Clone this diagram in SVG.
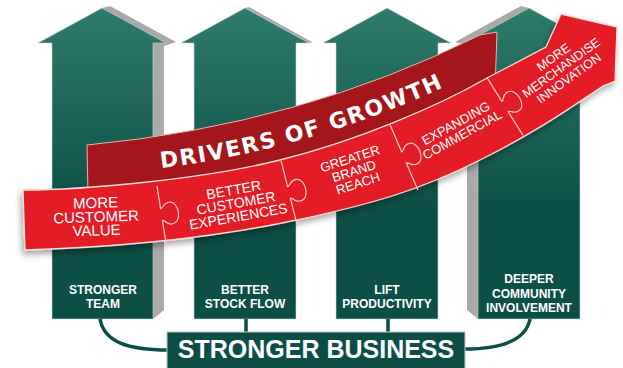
<svg xmlns="http://www.w3.org/2000/svg" width="623" height="368" viewBox="0 0 623 368">
<defs>
<linearGradient id="gr" gradientUnits="userSpaceOnUse" x1="0" y1="5" x2="0" y2="210">
<stop offset="0" stop-color="#2f7c6c"/><stop offset="1" stop-color="#0c4f46"/>
</linearGradient>
<filter id="sh" x="-10%" y="-20%" width="120%" height="150%">
<feDropShadow dx="-2" dy="4" stdDeviation="3" flood-color="#000" flood-opacity="0.35"/>
</filter>
<style>
.col{fill:url(#gr);stroke:#c9d6d2;stroke-width:0.6}
.side{fill:#a9a9a9}
.lbl{font-family:"Liberation Sans",Arial,sans-serif;font-weight:bold;font-size:12px;fill:#fff;text-anchor:middle}
.seg{font-family:"Liberation Sans",Arial,sans-serif;fill:#fff;text-anchor:middle}
.div{fill:none;stroke:#f6cbc6;stroke-width:1.2}
.con{fill:none;stroke:#0c4e45;stroke-width:3.5}
</style>
</defs>
<rect width="623" height="368" fill="#fff"/>

<g id="col1">
<polygon class="side" points="102,8 110,6 176,42 164,46 164,310 153,319 153,43"/>
<polygon class="col" points="38,43 102,8 166,43 153,43 153,319 52,319 52,43"/>
<text class="lbl" x="103" y="294">STRONGER</text>
<text class="lbl" x="103" y="308">TEAM</text>
</g>
<g id="col2">
<polygon class="side" points="245,8 249,7 312,42 309,43"/>
<polygon class="col" points="181,43 245,8 309,43 296,43 296,319 194,319 194,43"/>
<text class="lbl" x="245" y="294">BETTER</text>
<text class="lbl" x="245" y="308">STOCK FLOW</text>
</g>
<g id="col3">
<polygon class="col" points="323,43 387,8 451,43 438,43 438,319 336,319 336,43"/>
<text class="lbl" x="387" y="294">LIFT</text>
<text class="lbl" x="387" y="308">PRODUCTIVITY</text>
</g>
<g id="col4">
<polygon class="side" points="529,8 521,6 455,42 467,46 467,310 478,319 478,43"/>
<polygon class="col" points="465,43 529,8 593,43 580,43 580,319 478,319 478,43"/>
<text class="lbl" x="529" y="283">DEEPER</text>
<text class="lbl" x="529" y="297.5">COMMUNITY</text>
<text class="lbl" x="529" y="312">INVOLVEMENT</text>
</g>

<g id="connectors">
<path class="con" d="M100,319 C104,342 128,350 168,350"/>
<path class="con" d="M246,319 L246,333"/>
<path class="con" d="M388,319 L388,333"/>
<path class="con" d="M530,319 C526,340 502,349 464,349"/>
</g>

<g id="business">
<rect x="167" y="332" width="298" height="40" fill="#0c4e45" stroke="#b9c9c4" stroke-width="1"/>
<text x="316" y="358" font-family="'Liberation Sans',Arial,sans-serif" font-weight="bold" font-size="25" fill="#fff" text-anchor="middle">STRONGER BUSINESS</text>
</g>

<g id="drivers">
<path d="M87,145 Q300,125 480,35 L497,32 L495,90 L300,180 L88,195 Z" fill="#a5161b" stroke="#e9b3ae" stroke-width="1"/>
<path id="dp" d="M161,168 Q310,150 455,82" fill="none"/>
<text font-family="'DejaVu Sans',sans-serif" font-weight="bold" font-size="22" fill="#fff" letter-spacing="1.6"><textPath href="#dp">DRIVERS OF GROWTH</textPath></text>
</g>

<g id="band" filter="url(#sh)">
<path d="M23,190 C80,190 200,180 280,160 S440,105 487,78 L546,47 L561,14 L617,27 L615,81 L603,86 C570,108 540,130 480,160 C420,190 374,204 287,222 C200,240 100,248 25,250 Z" fill="#e31e25" stroke="#f8dcd6" stroke-width="1.3"/>
</g>

<g id="dividers">
<path class="div" transform="translate(161.5,214.5) rotate(-9)" d="M0,-29 L0,-6 C3,-6 3,-11 9,-11 C15,-11 17,-5 17,0 C17,5 15,11 9,11 C3,11 3,6 0,6 L0,29"/>
<path class="div" transform="translate(289,192.5) rotate(-14)" d="M0,-32.5 L0,-6 C3,-6 3,-11 9,-11 C15,-11 17,-5 17,0 C17,5 15,11 9,11 C3,11 3,6 0,6 L0,32.5"/>
<path class="div" transform="translate(404,157.5) rotate(-23)" d="M0,-35.4 L0,-6 C3,-6 3,-11 9,-11 C15,-11 17,-5 17,0 C17,5 15,11 9,11 C3,11 3,6 0,6 L0,35.4"/>
<path class="div" transform="translate(505,106.5) rotate(-32)" d="M0,-33.7 L0,-6 C3,-6 3,-11 9,-11 C15,-11 17,-5 17,0 C17,5 15,11 9,11 C3,11 3,6 0,6 L0,33.7"/>
</g>

<g id="seg1">
<text class="seg" font-size="15" transform="translate(96,216) rotate(-2)"><tspan x="0" y="-8">MORE</tspan><tspan x="0" y="6">CUSTOMER</tspan><tspan x="0" y="19.5">VALUE</tspan></text>
</g>
<g id="seg2">
<text class="seg" font-size="14" transform="translate(236,203) rotate(-10)"><tspan x="0" y="-8.5">BETTER</tspan><tspan x="0" y="5">CUSTOMER</tspan><tspan x="0" y="18.5">EXPERIENCES</tspan></text>
</g>
<g id="seg3">
<text class="seg" font-size="13" transform="translate(354,171) rotate(-18)"><tspan x="0" y="-8.5">GREATER</tspan><tspan x="0" y="4.5">BRAND</tspan><tspan x="0" y="17.5">REACH</tspan></text>
</g>
<g id="seg4">
<text class="seg" font-size="13" transform="translate(459,129) rotate(-29)"><tspan x="0" y="-2">EXPANDING</tspan><tspan x="0" y="11">COMMERCIAL</tspan></text>
</g>
<g id="seg5">
<text class="seg" font-size="12.5" transform="translate(561,67.5) rotate(-36)"><tspan x="0" y="-8.5">MORE</tspan><tspan x="0" y="4.5">MERCHANDISE</tspan><tspan x="0" y="17.5">INNOVATION</tspan></text>
</g>
</svg>
